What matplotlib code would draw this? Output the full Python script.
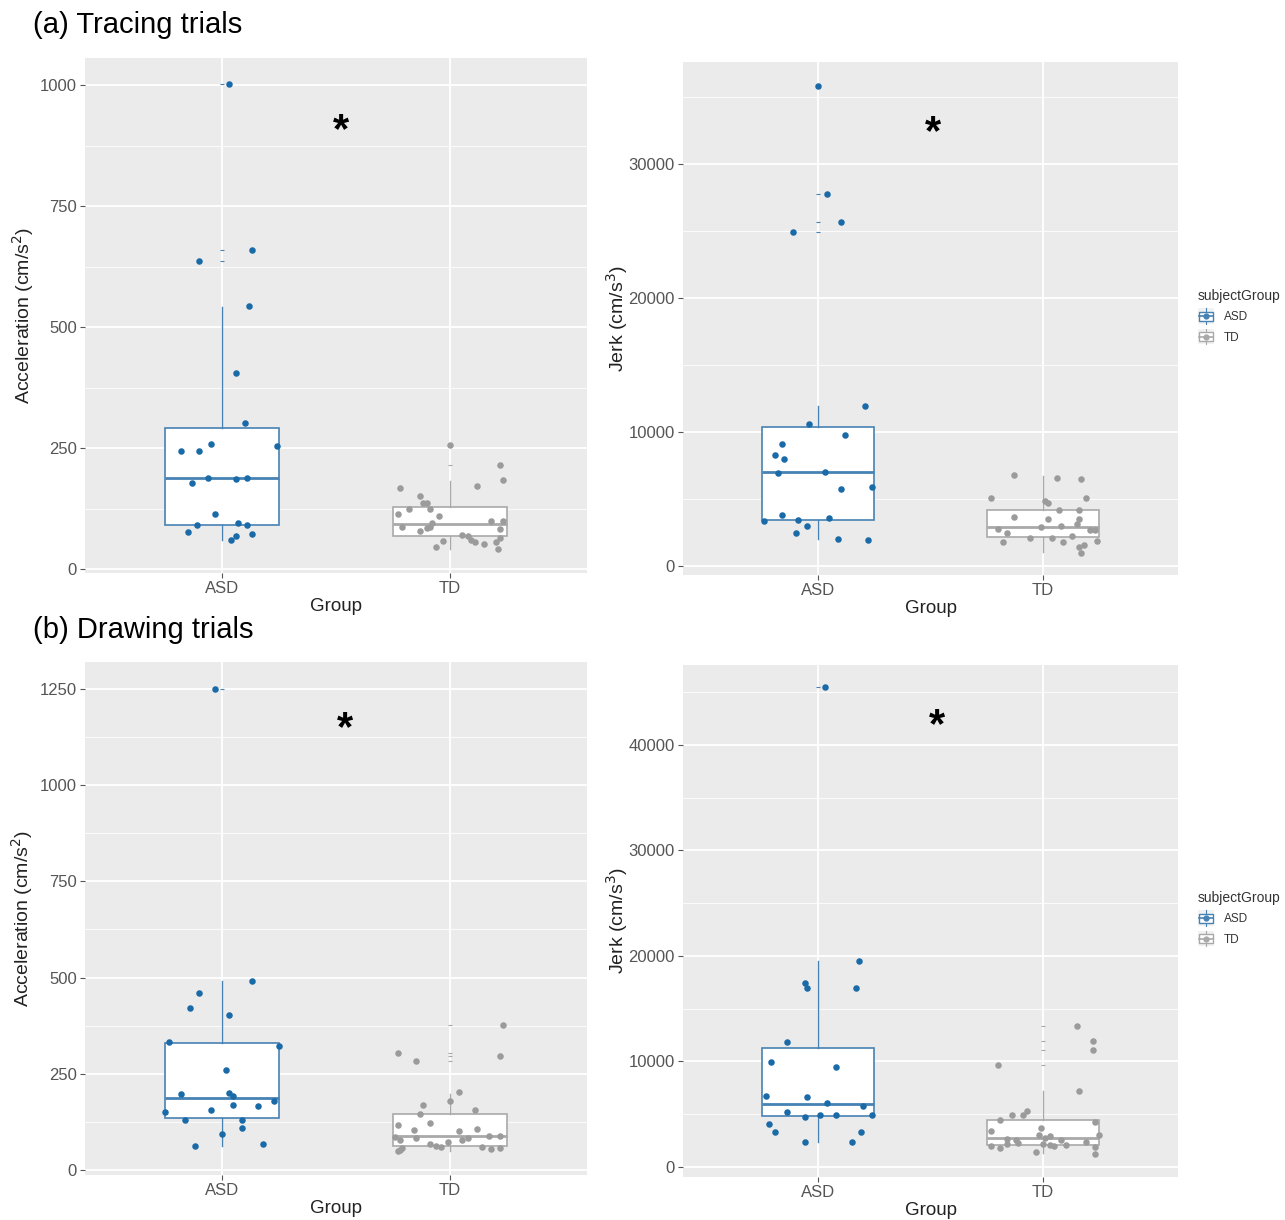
import matplotlib
matplotlib.use("Agg")
import matplotlib.pyplot as plt
from matplotlib.lines import Line2D
from matplotlib.patches import Rectangle
from matplotlib.legend_handler import HandlerBase
from matplotlib.ticker import MultipleLocator

plt.rcParams['font.family'] = ['Liberation Sans', 'DejaVu Sans']

groups = ["ASD", "TD"]

# values; *_dx is the horizontal jitter of each dot
tracing_acc_asd = [1002, 636, 660, 544, 406, 302, 244, 244, 258, 254, 177, 189, 187, 189, 113, 91, 77, 96, 91, 73, 60, 68]
tracing_acc_asd_dx = [0.03, -0.10, 0.13, 0.12, 0.06, 0.10, -0.18, -0.10, -0.05, 0.24, -0.13, -0.06, 0.06, 0.11, -0.03, -0.11, -0.15, 0.07, 0.11, 0.13, 0.04, 0.06]
tracing_acc_td = [256, 216, 185, 168, 171, 151, 136, 136, 124, 125, 113, 110, 100, 100, 87, 96, 87, 84, 79, 82, 65, 70, 68, 61, 56, 51, 56, 41, 58, 46]
tracing_acc_td_dx = [0.00, 0.22, 0.23, -0.22, 0.12, -0.13, -0.12, -0.10, -0.18, -0.09, -0.23, -0.05, 0.18, 0.23, -0.21, -0.08, -0.09, -0.10, -0.13, 0.22, 0.22, 0.05, 0.08, 0.09, 0.11, 0.15, 0.20, 0.21, -0.03, -0.06]

tracing_jerk_asd = [35830, 27750, 25630, 24950, 11960, 10580, 9760, 9090, 8270, 7950, 6940, 7000, 5780, 5910, 3800, 3470, 3580, 3340, 2960, 2500, 2030, 1950]
tracing_jerk_asd_dx = [0.00, 0.04, 0.10, -0.11, 0.21, -0.04, 0.12, -0.16, -0.19, -0.15, -0.18, 0.03, 0.10, 0.24, -0.16, -0.09, 0.05, -0.24, -0.05, -0.10, 0.09, 0.22]
tracing_jerk_td = [6780, 6560, 6510, 5040, 5040, 4830, 4670, 4200, 4200, 3660, 3530, 3530, 3150, 2980, 2930, 2790, 2440, 2660, 2710, 2060, 2120, 2250, 1790, 1790, 1440, 1570, 1840, 950]
tracing_jerk_td_dx = [-0.13, 0.06, 0.17, -0.23, 0.19, 0.01, 0.02, 0.07, 0.16, -0.13, 0.02, 0.16, 0.15, 0.08, -0.01, -0.20, -0.16, 0.21, 0.23, -0.06, 0.04, 0.13, -0.18, 0.09, 0.16, 0.18, 0.24, 0.17]

drawing_acc_asd = [1250, 490, 461, 422, 402, 333, 322, 261, 197, 199, 192, 179, 169, 167, 156, 150, 130, 131, 110, 93, 67, 62]
drawing_acc_asd_dx = [-0.03, 0.13, -0.10, -0.14, 0.03, -0.23, 0.25, 0.02, -0.18, 0.03, 0.05, 0.23, 0.05, 0.16, -0.05, -0.25, -0.16, 0.09, 0.09, 0.00, 0.18, -0.12]
drawing_acc_td = [376, 304, 295, 283, 202, 180, 169, 157, 146, 122, 117, 107, 104, 102, 88, 88, 86, 84, 84, 77, 73, 79, 67, 62, 59, 59, 54, 57, 56, 49, 53]
drawing_acc_td_dx = [0.23, -0.23, 0.22, -0.15, 0.04, 0.00, -0.12, 0.11, -0.13, -0.09, -0.23, 0.12, -0.16, 0.04, 0.17, 0.22, -0.24, -0.15, 0.08, 0.05, -0.01, -0.22, -0.09, -0.06, -0.04, 0.14, 0.18, 0.22, -0.21, -0.23, -0.22]

drawing_jerk_asd = [45510, 19550, 17450, 16940, 16970, 11810, 9910, 9500, 6710, 6640, 6020, 5820, 5200, 4920, 4920, 4920, 4780, 4030, 3270, 3270, 2410, 2410]
drawing_jerk_asd_dx = [0.03, 0.18, -0.06, -0.05, 0.17, -0.14, -0.21, 0.08, -0.23, -0.05, 0.04, 0.20, -0.14, 0.01, 0.08, 0.24, -0.06, -0.22, -0.19, 0.19, -0.06, 0.15]
drawing_jerk_td = [13390, 11940, 11050, 9670, 7230, 5300, 4960, 4960, 4440, 4270, 3720, 3440, 3060, 3060, 2960, 2720, 2650, 2550, 2310, 2550, 2410, 2200, 2200, 2130, 2030, 2030, 2070, 1760, 1450, 1860, 1240]
drawing_jerk_td_dx = [0.15, 0.22, 0.22, -0.20, 0.16, -0.07, -0.14, -0.09, -0.19, 0.23, -0.01, -0.23, -0.02, 0.25, 0.03, 0.01, -0.16, -0.12, -0.11, 0.08, 0.19, -0.16, 0.00, 0.03, -0.23, 0.05, 0.10, -0.19, -0.03, 0.23, 0.23]

# box summaries: whisker low, q1, median, q3, whisker high, outliers
tracing_acc_box_asd = [61, 92, 189, 291, 542, [636, 660, 1002]]
tracing_acc_box_td = [42, 68, 93, 128, 183, [216, 256]]
tracing_jerk_box_asd = [1980, 3470, 7000, 10390, 11930, [24950, 25630, 27750, 35830]]
tracing_jerk_box_td = [1030, 2200, 2930, 4180, 6730, []]
drawing_acc_box_asd = [63, 135, 186, 330, 490, [1250]]
drawing_acc_box_td = [49, 62, 89, 145, 197, [283, 295, 304, 376]]
drawing_jerk_box_asd = [2410, 4820, 5960, 11290, 19480, [45510]]
drawing_jerk_box_td = [1340, 2070, 2720, 4410, 7190, [9670, 11050, 11940, 13390]]

asd_dot = "#1a6aa8"
asd_line = "#4682b4"
td_dot = "#9b9b9b"
td_line = "#a9a9a9"


class BoxKey(HandlerBase):
    def create_artists(self, legend, orig_handle, xdescent, ydescent, width, height, fontsize, trans):
        c = orig_handle.get_color()
        x0, y0 = -xdescent, -ydescent
        bg = Rectangle((x0, y0 - 1), width, height + 2, fc="#f2f2f2", ec="none", transform=trans)
        box = Rectangle((x0 + width * 0.1, y0 + height * 0.15), width * 0.8, height * 0.7,
                        fc="white", ec=c, lw=1.0, transform=trans)
        whisk = Line2D([x0 + width / 2] * 2, [y0 - 1, y0 + height + 1], color=c, lw=0.8, transform=trans)
        med = Line2D([x0 + width * 0.1, x0 + width * 0.9], [y0 + height / 2] * 2, color=c, lw=1.2, transform=trans)
        dot = Line2D([x0 + width / 2], [y0 + height / 2], marker="o", ms=3.5, color=c, lw=0, transform=trans)
        return [bg, whisk, box, med, dot]


def panel(rect, asd, asd_dx, td, td_dx, box_asd, box_td, ylim, major, ylabel, ypad, star):
    ax = fig.add_axes(rect)
    ax.set_facecolor("#ebebeb")
    for s in ax.spines.values():
        s.set_visible(False)
    ax.set_xlim(0.4, 2.6)
    ax.set_ylim(*ylim)
    ax.yaxis.set_major_locator(MultipleLocator(major))
    ax.yaxis.set_minor_locator(MultipleLocator(major / 2))
    ax.grid(True, which="major", color="white", lw=1.3)
    ax.grid(True, which="minor", axis="y", color="white", lw=0.6)
    ax.set_axisbelow(True)

    stats = []
    for b in [box_asd, box_td]:
        stats.append(dict(whislo=b[0], q1=b[1], med=b[2], q3=b[3], whishi=b[4], fliers=b[5]))
    for st, pos, lc in zip(stats, [1, 2], [asd_line, td_line]):
        ax.bxp([st], positions=[pos], widths=0.5, patch_artist=True, showcaps=False,
               boxprops=dict(facecolor="white", edgecolor=lc, lw=1.2),
               whiskerprops=dict(color=lc, lw=1.0),
               medianprops=dict(color=lc, lw=2.0),
               flierprops=dict(marker="_", markersize=3, markeredgecolor=lc, markeredgewidth=0.8),
               manage_ticks=False, zorder=2)

    ax.scatter([1 + d for d in asd_dx], asd, s=22, color=asd_dot, zorder=3, lw=0)
    ax.scatter([2 + d for d in td_dx], td, s=22, color=td_dot, zorder=3, lw=0)

    ax.set_xticks([1, 2])
    ax.set_xticklabels(groups)
    ax.tick_params(axis="both", which="major", colors="#555555", labelsize=12, length=3.5, width=0.8, pad=2.5)
    ax.tick_params(axis="both", which="minor", length=0)
    for lab in ax.get_xticklabels() + ax.get_yticklabels():
        lab.set_color("#555555")
    ax.set_xlabel("Group", fontsize=13.5, color="#222222", labelpad=1)
    ax.set_ylabel(ylabel, fontsize=14, color="#222222", labelpad=ypad)
    ax.text(star[0], star[1], "*", fontsize=30, fontweight="bold", ha="center", va="center", color="black")
    return ax


fig = plt.figure(figsize=(12.85, 12.2), dpi=100)
W, H = 1285, 1220


def rect(l, t, r, b):
    return [l / W, 1 - b / H, (r - l) / W, (b - t) / H]


acc_label = r"Acceleration (cm/s$^2$)"
jerk_label = r"Jerk (cm/s$^3$)"

panel(rect(85, 58, 587, 573), tracing_acc_asd, tracing_acc_asd_dx, tracing_acc_td, tracing_acc_td_dx,
      tracing_acc_box_asd, tracing_acc_box_td, (-8, 1056), 250, acc_label, 3, (1.52, 905))
panel(rect(683, 62, 1178, 575), tracing_jerk_asd, tracing_jerk_asd_dx, tracing_jerk_td, tracing_jerk_td_dx,
      tracing_jerk_box_asd, tracing_jerk_box_td, (-670, 37600), 10000, jerk_label, -1, (1.51, 32300))
panel(rect(85, 662, 587, 1175), drawing_acc_asd, drawing_acc_asd_dx, drawing_acc_td, drawing_acc_td_dx,
      drawing_acc_box_asd, drawing_acc_box_td, (-13, 1320), 250, acc_label, 3, (1.54, 1145))
panel(rect(683, 665, 1178, 1177), drawing_jerk_asd, drawing_jerk_asd_dx, drawing_jerk_td, drawing_jerk_td_dx,
      drawing_jerk_box_asd, drawing_jerk_box_td, (-950, 47580), 10000, jerk_label, -1, (1.53, 41800))

fig.text(33 / W, 1 - 25 / H, "(a) Tracing trials", fontsize=21, va="center", ha="left")
fig.text(33 / W, 1 - 630 / H, "(b) Drawing trials", fontsize=21, va="center", ha="left")

handles = [Line2D([], [], color=asd_line), Line2D([], [], color=td_line)]
for top in [278, 880]:
    leg = fig.legend(handles, groups, title="subjectGroup", loc="upper left",
                     bbox_to_anchor=(1187 / W, 1 - top / H), frameon=False,
                     fontsize=8.5, title_fontsize=10, handlelength=1.4, handleheight=1.3,
                     handletextpad=0.8, labelspacing=0.6, alignment="left",
                     handler_map={Line2D: BoxKey()})
    leg.get_title().set_color("#333333")
    for t in leg.get_texts():
        t.set_color("#333333")

fig.savefig("out.png", dpi=100)
